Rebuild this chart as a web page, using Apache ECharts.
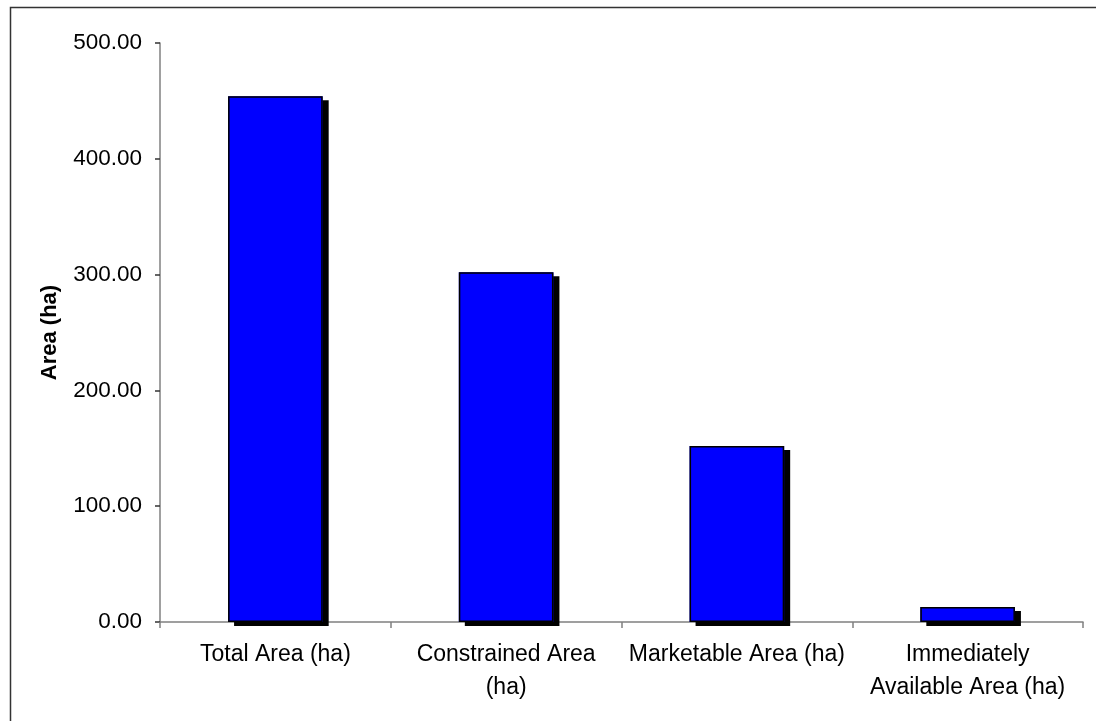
<!DOCTYPE html>
<html>
<head>
<meta charset="utf-8">
<script src="https://cdn.jsdelivr.net/npm/echarts@6/dist/echarts.min.js"></script>
<style>
html,body{margin:0;padding:0;background:#fff;}
#chart{width:1096px;height:721px;}
</style>
</head>
<body>
<div id="chart"></div>
<script>
var categories = ['Total Area (ha)', 'Constrained Area\n(ha)', 'Marketable Area (ha)', 'Immediately\nAvailable Area (ha)'];
var areaValues = [454, 302, 152, 13];
var yTicks = { min: 0, max: 500, interval: 100 };

var chart = echarts.init(document.getElementById('chart'));
chart.setOption({
  backgroundColor: '#ffffff',
  animation: false,
  textStyle: { fontFamily: 'Liberation Sans, Arial, sans-serif' },
  graphic: [{
    type: 'rect',
    left: 8, top: 5,
    shape: { width: 1200, height: 800 },
    style: { fill: 'none', stroke: '#333', lineWidth: 1.5 },
    silent: true
  }],
  grid: { left: 160, right: 13, top: 43, bottom: 99 },
  xAxis: {
    type: 'category',
    data: categories,
    axisLine: { lineStyle: { color: '#808080', width: 1.5 } },
    axisTick: { show: true, length: 6, lineStyle: { color: '#808080', width: 1.5 } },
    axisLabel: { color: '#000', fontSize: 23, margin: 16, lineHeight: 33, interval: 0 }
  },
  yAxis: {
    type: 'value',
    min: yTicks.min, max: yTicks.max, interval: yTicks.interval,
    name: 'Area (ha)',
    nameLocation: 'middle',
    nameGap: 99,
    nameTextStyle: { color: '#000', fontSize: 22, fontWeight: 'bold' },
    axisLine: { show: true, lineStyle: { color: '#808080', width: 1.5 } },
    axisTick: { show: true, length: 5, lineStyle: { color: '#333', width: 1.5 } },
    axisLabel: { color: '#000', fontSize: 22.5, margin: 18, formatter: function (v) { return v.toFixed(2); } },
    splitLine: { show: false }
  },
  series: [{
    type: 'bar',
    data: areaValues,
    barWidth: '41%',
    itemStyle: {
      color: '#0000ff',
      borderWidth: 0,
      shadowColor: '#000',
      shadowBlur: 0,
      shadowOffsetX: 6,
      shadowOffsetY: 4
    }
  }, {
    type: 'bar',
    data: areaValues,
    barWidth: '41%',
    barGap: '-100%',
    itemStyle: {
      color: 'rgba(0,0,0,0)',
      borderColor: '#000',
      borderWidth: 1.5
    }
  }]
});
</script>
</body>
</html>
